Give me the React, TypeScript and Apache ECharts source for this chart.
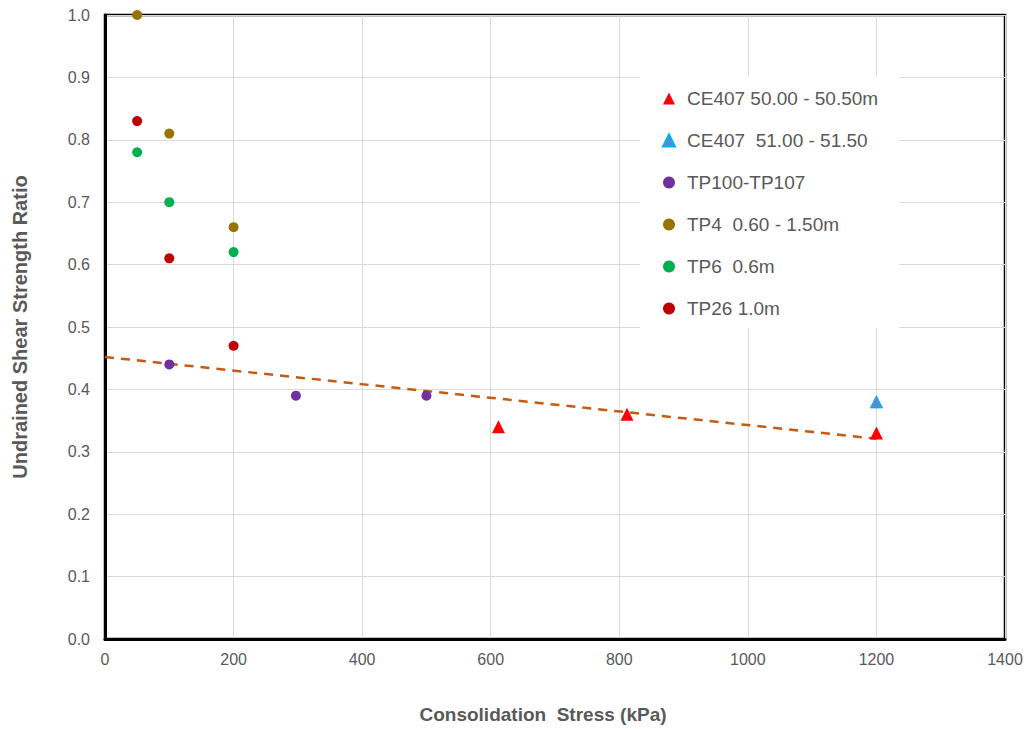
import React, { useEffect, useRef } from "react";
import * as echarts from "echarts";

const ce407aData: [number, number][] = [[612, 0.34], [812, 0.36], [1200, 0.33]];
const ce407bData: [number, number][] = [[1200, 0.38]];
const tp100Data: [number, number][] = [[100, 0.44], [297, 0.39], [500, 0.39]];
const tp4Data: [number, number][] = [[50, 1.0], [100, 0.81], [200, 0.66]];
const tp6Data: [number, number][] = [[50, 0.78], [100, 0.7], [200, 0.62]];
const tp26Data: [number, number][] = [[50, 0.83], [100, 0.61], [200, 0.47]];
const trendData: [number, number][] = [[0, 0.452], [1200, 0.321]];

const seriesNames = [
  "CE407 50.00 - 50.50m",
  "CE407  51.00 - 51.50",
  "TP100-TP107",
  "TP4  0.60 - 1.50m",
  "TP6  0.6m",
  "TP26 1.0m",
];

export default function App() {
  const ref = useRef<HTMLDivElement>(null);
  useEffect(() => {
    if (!ref.current) return;
    const chart = echarts.init(ref.current, undefined, { renderer: "svg" });
    const font = "Liberation Sans, Arial, sans-serif";
    const gray = "#595959";
    const scatter = (name: string, data: [number, number][], symbol: string, size: number, itemStyle: any) => ({
      name,
      type: "scatter",
      symbol,
      symbolSize: size,
      data,
      itemStyle: { opacity: 1, ...itemStyle },
      z: 3,
    });
    chart.setOption({
      animation: false,
      textStyle: { fontFamily: font },
      grid: {
        left: 105,
        right: 24,
        top: 15,
        bottom: 88,
        show: true,
        borderColor: "#000",
        borderWidth: 2.5,
        backgroundColor: "#fff",
      },
      xAxis: {
        type: "value",
        min: 0,
        max: 1400,
        interval: 200,
        name: "Consolidation  Stress (kPa)",
        nameLocation: "middle",
        nameGap: 66,
        nameTextStyle: {
          fontSize: 19,
          fontWeight: "bold",
          color: gray,
          fontFamily: font,
          padding: [0, 24, 0, 0],
        },
        axisLine: { show: true, lineStyle: { color: "#000", width: 3 } },
        axisTick: { show: false },
        axisLabel: { fontSize: 16, color: gray, margin: 12, fontFamily: font, formatter: (v: number) => String(v) },
        splitLine: { show: true, lineStyle: { color: "#d9d9d9", width: 1 } },
      },
      yAxis: {
        type: "value",
        min: 0,
        max: 1,
        interval: 0.1,
        name: "Undrained Shear Strength Ratio",
        nameLocation: "middle",
        nameGap: 75,
        nameTextStyle: { fontSize: 20, fontWeight: "bold", color: gray, fontFamily: font },
        axisLine: { show: true, lineStyle: { color: "#000", width: 3 } },
        axisTick: { show: false },
        axisLabel: {
          fontSize: 16,
          color: gray,
          margin: 15,
          fontFamily: font,
          formatter: (v: number) => v.toFixed(1),
        },
        splitLine: { show: true, lineStyle: { color: "#d9d9d9", width: 1 } },
      },
      legend: {
        orient: "vertical",
        left: 640,
        top: 77,
        padding: [12, 21, 10, 22],
        backgroundColor: "#fff",
        itemWidth: 12,
        itemHeight: 12,
        itemGap: 23,
        textStyle: { fontSize: 19, color: gray, fontFamily: font, padding: [0, 0, 0, 7] },
        data: seriesNames,
      },
      series: [
        {
          name: "Trend",
          type: "line",
          data: trendData,
          symbol: "none",
          lineStyle: { color: "#C55A11", width: 2.5, type: [9, 7] },
          z: 1,
        },
        scatter(seriesNames[0], ce407aData, "triangle", 13, { color: "#FF0000" }),
        scatter(seriesNames[1], ce407bData, "triangle", 12, { color: "#4F8FD0", borderColor: "#00B0F0", borderWidth: 1 }),
        scatter(seriesNames[2], tp100Data, "circle", 10, { color: "#7030A0" }),
        scatter(seriesNames[3], tp4Data, "circle", 10, { color: "#997300" }),
        scatter(seriesNames[4], tp6Data, "circle", 10, { color: "#00B050" }),
        scatter(seriesNames[5], tp26Data, "circle", 10, { color: "#C00000" }),
      ],
    });
    return () => chart.dispose();
  }, []);
  return (
    <div
      ref={ref}
      style={{ position: "absolute", left: 0, top: 0, width: 1029, height: 729, background: "#fff" }}
    />
  );
}
